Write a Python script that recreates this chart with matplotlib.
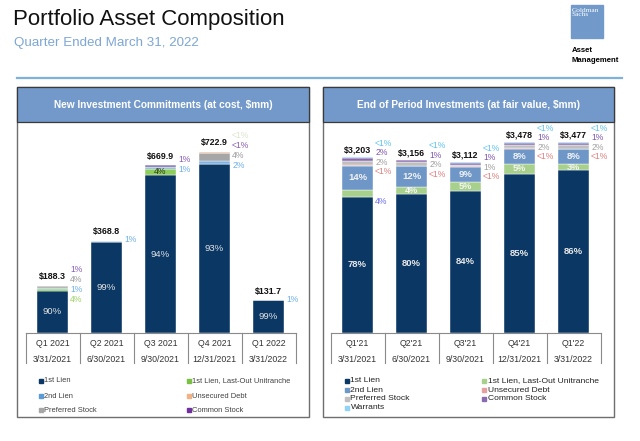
import numpy as np
import matplotlib.pyplot as plt
from matplotlib.patches import Rectangle
from matplotlib.lines import Line2D

plt.rcParams['font.family'] = ['Liberation Sans', 'DejaVu Sans']

# New Investment Commitments (at cost, $mm)
nic_quarters = ['Q1 2021', 'Q2 2021', 'Q3 2021', 'Q4 2021', 'Q1 2022']
nic_dates = ['3/31/2021', '6/30/2021', '9/30/2021', '12/31/2021', '3/31/2022']
nic_totals = [188.3, 368.8, 669.9, 722.9, 131.7]
nic_first_lien = [90, 99, 94, 93, 99]
nic_last_out = [4, 0, 4, 0, 0]
nic_second_lien = [1, 1, 1, 2, 1]
nic_preferred = [4, 0, 0, 4, 0]
nic_common = [1, 0, 1, 0.4, 0]
nic_unsecured = [0, 0, 0, 0.4, 0]

# End of Period Investments (at fair value, $mm)
eop_quarters = ["Q1'21", "Q2'21", "Q3'21", "Q4'21", "Q1'22"]
eop_dates = ['3/31/2021', '6/30/2021', '9/30/2021', '12/31/2021', '3/31/2022']
eop_totals = [3203, 3156, 3112, 3478, 3477]
eop_first_lien = [78, 80, 84, 85, 86]
eop_last_out = [4, 4, 5, 5, 3]
eop_second_lien = [14, 12, 9, 8, 8]
eop_unsecured = [0.4, 0.4, 0.4, 0.4, 0.4]
eop_preferred = [2, 2, 1, 2, 2]
eop_common = [2, 1, 1, 1, 1]
eop_warrants = [0.4, 0.4, 0.4, 0.4, 0.4]

W, H = 640, 441
NAVY = '#0a3764'
fig = plt.figure(figsize=(W / 100, H / 100), dpi=100)


def fx(x):
    return x / W


def fy(y):
    return 1 - y / H


def pct(v):
    return '<1%' if v < 1 else f'{v:.0f}%'


# ---- page header
fig.text(fx(13), fy(19), 'Portfolio Asset Composition', fontsize=16,
         va='center', color='#111111')
fig.text(fx(14), fy(43), 'Quarter Ended March 31, 2022', fontsize=9.6,
         va='center', color='#7ea6d3')
fig.add_artist(Rectangle((fx(571), fy(38)), 32 / W, 33 / H,
                         transform=fig.transFigure, color='#7199c9'))
fig.text(fx(572), fy(8), 'Goldman\nSachs', fontsize=5.2, family='Liberation Serif',
         color='white', va='top', linespacing=0.8)
fig.text(fx(572), fy(50), 'Asset', fontsize=5.6, fontweight='bold', va='center')
fig.text(fx(572), fy(60), 'Management', fontsize=5.6, fontweight='bold', va='center')
fig.add_artist(Line2D([fx(17), fx(622)], [fy(78), fy(78)], color='#7fb1dd', lw=1.6))


def panel(x0, x1, title):
    fig.add_artist(Rectangle((fx(x0), fy(417)), (x1 - x0) / W, 330 / H,
                             transform=fig.transFigure, fill=False,
                             edgecolor='#6e6e6e', lw=1.0))
    fig.add_artist(Rectangle((fx(x0), fy(122)), (x1 - x0) / W, 35 / H,
                             transform=fig.transFigure, facecolor='#7299ca',
                             edgecolor='#3a3a3a', lw=0.9))
    fig.text(fx((x0 + x1) / 2), fy(105), title, color='white', fontsize=7.3,
             fontweight='bold', ha='center', va='center')


panel(17, 309, 'New Investment Commitments (at cost, $mm)')
panel(323, 614, 'End of Period Investments (at fair value, $mm)')

BAR_W = 31 / 54


def make_axes(xc0, px_per_unit):
    left = xc0 - 27
    ax = fig.add_axes([fx(left), fy(333), 270 / W, 205 / H])
    ax.set_xlim(-0.5, 4.5)
    ax.set_ylim(0, 205 / px_per_unit)
    for s in ['top', 'right', 'left']:
        ax.spines[s].set_visible(False)
    ax.spines['bottom'].set_color('#8a8a8a')
    ax.spines['bottom'].set_linewidth(0.8)
    ax.set_xticks([])
    ax.set_yticks([])
    ax.patch.set_alpha(0)
    return ax


def stack(ax, totals, layers):
    x = np.arange(len(totals))
    share = np.array([l[0] for l in layers], float)
    vals = share / share.sum(axis=0) * np.array(totals, float)
    bottoms = np.vstack([np.zeros(len(totals)), np.cumsum(vals, axis=0)[:-1]])
    for (p, c), v, b in zip(layers, vals, bottoms):
        ax.bar(x, v, bottom=b, width=BAR_W, color=c, edgecolor='white', linewidth=0.3)
    return vals, bottoms


def table(ax, quarters, dates):
    tr = ax.get_xaxis_transform()
    h = 30 / 205
    for b in np.arange(-0.5, 5, 1):
        ax.plot([b, b], [0, -h], color='#8a8a8a', lw=0.8, transform=tr, clip_on=False)
    for i, (q, d) in enumerate(zip(quarters, dates)):
        ax.text(i, -10 / 205, q, transform=tr, ha='center', va='center',
                fontsize=6.3, color='#333333')
        ax.text(i, -26 / 205, d, transform=tr, ha='center', va='center',
                fontsize=6.3, color='#333333')


def side_labels(ax, i, top, labels, first, step):
    for k, (t, c) in enumerate(labels):
        dy = (first - k * step) * 0.72
        ax.annotate(t, (i + BAR_W / 2, top), xytext=(1.5, dy), textcoords='offset points',
                    ha='left', va='center', fontsize=6.2, color=c)


def legend(items, cols_x, rows_y, fs, tc):
    for (label, c), (x, y) in zip(items, [(cx, ry) for cx in cols_x for ry in rows_y]):
        if label is None:
            continue
        fig.add_artist(Rectangle((fx(x), fy(y + 2)), 4 / W, 4 / H,
                                 transform=fig.transFigure, color=c))
        fig.text(fx(x + 5.5), fy(y), label, fontsize=fs, color=tc, va='center')


# ---- left chart
L = {'first': NAVY, 'last': '#8fce5a', 'second': '#7fb2e5', 'unsec': '#f4b183',
     'pref': '#a6a6a6', 'common': '#8064a2'}
axl = make_axes(52.5, 0.2505)
vals, bots = stack(axl, nic_totals, [
    (nic_first_lien, L['first']), (nic_last_out, L['last']),
    (nic_second_lien, L['second']), (nic_preferred, L['pref']),
    (nic_common, L['common']), (nic_unsecured, L['unsec'])])
for i in range(5):
    axl.text(i, vals[0][i] / 2, pct(nic_first_lien[i]), ha='center', va='center',
             fontsize=6.8, color='#e4e4e4')
    axl.annotate(f'${nic_totals[i]:.1f}', (i, nic_totals[i]), xytext=(0, 9 * 0.72),
                 textcoords='offset points', ha='center', va='center',
                 fontsize=6.4, fontweight='bold', color='#111111')
    labs = []
    for series, c in [(nic_unsecured, '#d9e6cc'), (nic_common, '#8a5cb8'),
                      (nic_preferred, '#9a9a9a'), (nic_second_lien, '#6fb0e8')]:
        if series[i] > 0:
            labs.append((pct(series[i]), c))
    if nic_last_out[i] > 0:
        if vals[1][i] * 0.2505 > 5:
            axl.text(i, bots[1][i] + vals[1][i] / 2, pct(nic_last_out[i]), ha='center',
                     va='center', fontsize=6.2, color='#2a3a1a')
        else:
            labs.append((pct(nic_last_out[i]), '#9cd464'))
    n = len(labs)
    side_labels(axl, i, nic_totals[i], labs, 5 * (n - 1) + 1, 10)
table(axl, nic_quarters, nic_dates)
legend([('1st Lien', NAVY), ('2nd Lien', '#5b9bd5'), ('Preferred Stock', '#a6a6a6'),
        ('1st Lien, Last-Out Unitranche', '#7ac143'), ('Unsecured Debt', '#f4b183'),
        ('Common Stock', '#7030a0')],
       [39, 187], [381, 396, 410], 5.4, '#404040')

# ---- right chart
R = {'first': NAVY, 'last': '#a8d08d', 'second': '#6e97c8', 'unsec': '#e6a0a0',
     'pref': '#bfbfbf', 'common': '#8a6bb0', 'warr': '#8fd3f7'}
px_r = 0.0549
axr = make_axes(357.5, px_r)
vals, bots = stack(axr, eop_totals, [
    (eop_first_lien, R['first']), (eop_last_out, R['last']),
    (eop_second_lien, R['second']), (eop_unsecured, R['unsec']),
    (eop_preferred, R['pref']), (eop_common, R['common']), (eop_warrants, R['warr'])])
green_inside = [False, True, True, True, True]
for i in range(5):
    axr.text(i, vals[0][i] / 2, pct(eop_first_lien[i]), ha='center', va='center',
             fontsize=6.8, fontweight='bold', color='#e8e8e8')
    axr.text(i, bots[2][i] + vals[2][i] / 2, pct(eop_second_lien[i]), ha='center',
             va='center', fontsize=6.8, fontweight='bold', color='#f2f2f2')
    axr.annotate(f'${eop_totals[i]:,}', (i, eop_totals[i]), xytext=(0, 7 * 0.72),
                 textcoords='offset points', ha='center', va='center',
                 fontsize=6.4, fontweight='bold', color='#111111')
    labs = [(pct(eop_warrants[i]), '#5fc3f2'), (pct(eop_common[i]), '#7f56ad'),
            (pct(eop_preferred[i]), '#a0a0a0'), (pct(eop_unsecured[i]), '#e07f7f')]
    side_labels(axr, i, eop_totals[i], labs, 14, 9.5)
    gy = bots[1][i] + vals[1][i] / 2
    if green_inside[i]:
        axr.text(i, gy, pct(eop_last_out[i]), ha='center', va='center',
                 fontsize=6.6, fontweight='bold', color='#f4f4f4')
    else:
        axr.annotate(pct(eop_last_out[i]), (i + BAR_W / 2, gy), xytext=(1.5, -8 * 0.72),
                     textcoords='offset points', ha='left', va='center',
                     fontsize=6.2, color='#6b6bef')
table(axr, eop_quarters, eop_dates)
legend([('1st Lien', NAVY), ('2nd Lien', R['second']), ('Preferred Stock', R['pref']),
        ('Warrants', R['warr']),
        ('1st Lien, Last-Out Unitranche', R['last']), ('Unsecured Debt', R['unsec']),
        ('Common Stock', R['common']), (None, None)],
       [345, 482], [381, 390, 399, 407.5], 6.1, '#222222')

fig.savefig('out.png', dpi=100)
